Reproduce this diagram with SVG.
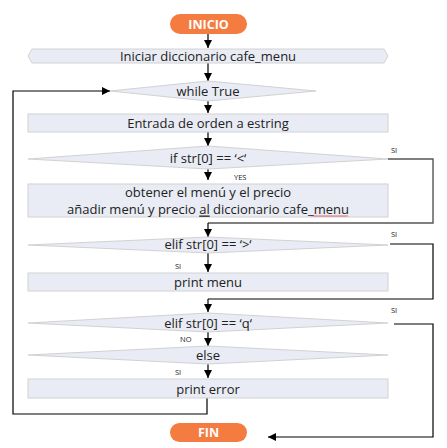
<svg xmlns="http://www.w3.org/2000/svg" width="447" height="448" viewBox="0 0 447 448">
<defs>
<marker id="ah" markerUnits="userSpaceOnUse" markerWidth="8" markerHeight="8" viewBox="0 0 8 8" refX="8" refY="4" orient="auto">
<path d="M0,0 L8,4 L0,8 z" fill="#000"/>
</marker>
</defs>
<style>
.box{fill:#E9ECF4;stroke:#D2D2D2;stroke-width:1}
.term{fill:#F57C40}
.tt{font-family:"Open Sans","Liberation Sans",Arial,sans-serif;font-size:13px;fill:#222;text-anchor:middle;dominant-baseline:central}
.tw{font-family:"Open Sans","Liberation Sans",Arial,sans-serif;font-size:12.5px;font-weight:bold;fill:#fff;text-anchor:middle;dominant-baseline:central}
.lb{font-family:"Open Sans","Liberation Sans",Arial,sans-serif;font-size:7.5px;fill:#222;dominant-baseline:central}
.ln{fill:none;stroke:#000;stroke-width:1.2}
.lg{fill:none;stroke:#555;stroke-width:1.4}
</style>
<g id="connectors">
<line class="ln" x1="208" y1="34" x2="208" y2="48" marker-end="url(#ah)"/>
<line class="ln" x1="208" y1="63" x2="208" y2="81" marker-end="url(#ah)"/>
<line class="ln" x1="208" y1="101" x2="208" y2="113" marker-end="url(#ah)"/>
<line class="ln" x1="208" y1="132" x2="208" y2="146" marker-end="url(#ah)"/>
<line class="ln" x1="208" y1="169" x2="208" y2="180" marker-end="url(#ah)"/>
<line class="ln" x1="208" y1="253" x2="208" y2="272" marker-end="url(#ah)"/>
<line class="ln" x1="208" y1="332" x2="208" y2="346" marker-end="url(#ah)"/>
<line class="ln" x1="208" y1="364" x2="208" y2="378" marker-end="url(#ah)"/>
<polyline class="ln" points="207,398 207,414 13,414 13,91 110,91" marker-end="url(#ah)"/>
<polyline class="lg" points="388,159 433,159 433,223 208,223"/>
<line class="ln" x1="208" y1="223" x2="208" y2="237" marker-end="url(#ah)"/>
<polyline class="ln" points="390,244 433,244 433,299 208,299"/>
<line class="ln" x1="208" y1="299" x2="208" y2="312" marker-end="url(#ah)"/>
<polyline class="ln" points="394,324 433,324 433,437 268,437" marker-end="url(#ah)"/>
<text class="lb" x="391" y="150">SI</text>
<text class="lb" x="234" y="177">YES</text>
<text class="lb" x="391" y="234">SI</text>
<text class="lb" x="175" y="266">SI</text>
<text class="lb" x="391" y="310">SI</text>
<text class="lb" x="180" y="339">NO</text>
<text class="lb" x="175" y="372">SI</text>
</g>
<g id="inicio">
<rect class="term" x="170" y="14" width="77" height="20" rx="10"/>
<text class="tw" x="208.5" y="24">INICIO</text>
</g>
<g id="iniciar">
<polygon class="box" points="28,56 32,49 384,49 388,56 384,63 32,63"/>
<text class="tt" x="208" y="56">Iniciar diccionario cafe_menu</text>
</g>
<g id="while">
<polygon class="box" points="110,91 208,81 316,91 208,101"/>
<text class="tt" x="208" y="91">while True</text>
</g>
<g id="entrada">
<rect class="box" x="28" y="114" width="360" height="18"/>
<text class="tt" x="208" y="123">Entrada de orden a estring</text>
</g>
<g id="if">
<polygon class="box" points="28,159 208,146 388,159 208,169"/>
<text class="tt" x="208" y="157.5">if str[0] == ‘&lt;‘</text>
</g>
<g id="obtener">
<rect class="box" x="28" y="184" width="360" height="33"/>
<text class="tt" x="208" y="192">obtener el menú y el precio</text>
<text class="tt" x="208" y="208.5">añadir menú y precio <tspan text-decoration="underline">al</tspan> diccionario cafe_menu</text>
<path d="M312,216.5 l1,-1 l1,1 l1,-1 l1,1 l1,-1 l1,1 l1,-1 l1,1 l1,-1 l1,1 l1,-1 l1,1 l1,-1 l1,1 l1,-1 l1,1 l1,-1 l1,1 l1,-1 l1,1 l1,-1 l1,1 l1,-1 l1,1 l1,-1 l1,1 l1,-1 l1,1 l1,-1 l1,1 l1,-1 l1,1 l1,-1 l1,1 l1,-1 l1,1" fill="none" stroke="#E02020" stroke-width="0.7"/>
</g>
<g id="elif1">
<polygon class="box" points="28,245 208,237 388,245 208,253"/>
<text class="tt" x="208" y="243.5">elif str[0] == ‘&gt;‘</text>
</g>
<g id="printmenu">
<rect class="box" x="28" y="273" width="360" height="18"/>
<text class="tt" x="208" y="281.5">print menu</text>
</g>
<g id="elif2">
<polygon class="box" points="28,323 208,313 388,323 208,332"/>
<text class="tt" x="208" y="322.5">elif  str[0] == ‘q‘</text>
</g>
<g id="else">
<polygon class="box" points="28,355 208,346 388,355 208,364"/>
<text class="tt" x="208" y="355">else</text>
</g>
<g id="printerror">
<rect class="box" x="28" y="379" width="360" height="19"/>
<text class="tt" x="208" y="388.5">print error</text>
</g>
<g id="fin">
<rect class="term" x="170" y="423" width="77" height="19" rx="9.5"/>
<text class="tw" x="208.5" y="432.5">FIN</text>
</g>
</svg>
